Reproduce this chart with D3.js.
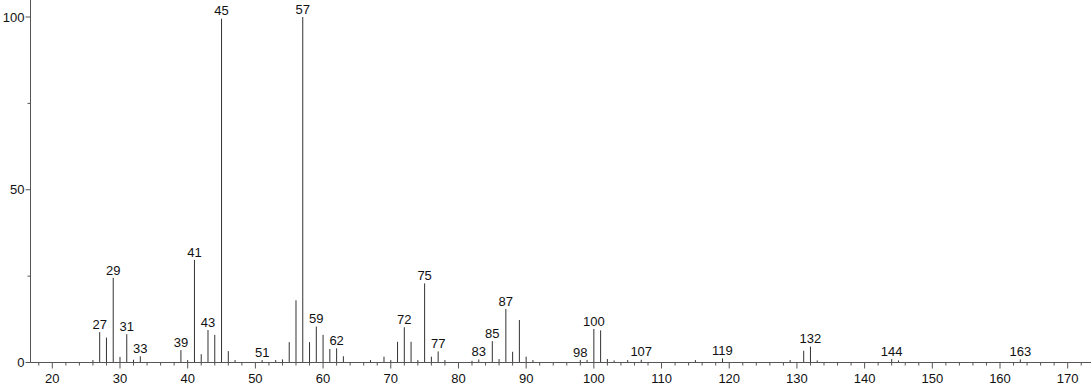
<!DOCTYPE html>
<html>
<head>
<meta charset="utf-8">
<script src="https://cdn.jsdelivr.net/npm/d3@7"></script>
<style>
  html, body { margin: 0; padding: 0; background: #fff; }
  svg { display: block; }
  text { font-family: "Liberation Sans", Arial, sans-serif; font-size: 13px; fill: #111; }
</style>
</head>
<body>
<svg id="chart" width="1091" height="387"></svg>
<script>
const mz = [26,27,28,29,30,31,32,33,39,40,41,42,43,44,45,46,47,51,53,54,55,56,57,58,59,60,61,62,63,67,69,70,71,72,73,74,75,76,77,78,82,83,85,86,87,88,89,90,91,98,99,100,101,102,103,105,107,115,119,129,131,132,133,144,145,163];
const intensity = [0.7,8.8,7.2,24.5,1.6,8.2,0.8,1.8,3.6,0.7,29.7,2.4,9.4,8.0,99.5,3.3,0.7,0.7,0.7,0.9,5.9,18.0,100,5.9,10.4,8.0,3.9,4.1,1.8,0.7,1.7,0.7,6.0,10.2,6.0,0.7,22.9,1.7,3.2,0.7,0.5,0.9,6.2,1.0,15.5,3.1,12.3,1.7,0.7,0.7,0.7,9.7,9.3,1.0,0.6,0.7,0.8,0.7,1.2,0.7,3.4,4.6,0.6,1.0,0.6,0.9];
const labeledPeaks = [27,29,31,33,39,41,43,45,51,57,59,62,72,75,77,83,85,87,98,100,107,119,132,144,163];
const xMajorTicks = [20,30,40,50,60,70,80,90,100,110,120,130,140,150,160,170];
const yMajorTicks = [0,50,100];
const yMinorTicks = [25,75];

const svg = d3.select("#chart");
const x = d3.scaleLinear().domain([20,170]).range([52.3,1067.7]);
const y = d3.scaleLinear().domain([0,100]).range([362.5,17]);
const xLeft = 30.5, xRight = 1091;
const xMinor = d3.range(18, 174, 2).filter(v => v % 10 !== 0);

const lineColor = "#333";
const axisColor = "#555";

// peaks
const peaks = mz.map((m,i) => ({m, v: intensity[i]}));
svg.append("g").selectAll("line").data(peaks).join("line")
  .attr("x1", d => x(d.m)).attr("x2", d => x(d.m))
  .attr("y1", y(0)).attr("y2", d => y(d.v))
  .attr("stroke", lineColor).attr("stroke-width", 1);

// x axis
const gx = svg.append("g");
gx.append("line").attr("x1", xLeft).attr("x2", xRight).attr("y1", y(0)).attr("y2", y(0))
  .attr("stroke", axisColor).attr("stroke-width", 1);
gx.selectAll("line.maj").data(xMajorTicks).join("line").attr("class","maj")
  .attr("x1", d => x(d)).attr("x2", d => x(d)).attr("y1", y(0)).attr("y2", y(0)+6)
  .attr("stroke", axisColor);
gx.selectAll("line.min").data(xMinor).join("line").attr("class","min")
  .attr("x1", d => x(d)).attr("x2", d => x(d)).attr("y1", y(0)).attr("y2", y(0)+3)
  .attr("stroke", axisColor);
gx.selectAll("text").data(xMajorTicks).join("text")
  .attr("x", d => x(d)).attr("y", 383.3).attr("text-anchor","middle").text(d => d);

// y axis
const gy = svg.append("g");
gy.append("line").attr("x1", xLeft).attr("x2", xLeft).attr("y1", y(0)).attr("y2", 0)
  .attr("stroke", axisColor).attr("stroke-width", 1);
gy.selectAll("line.maj").data(yMajorTicks).join("line").attr("class","maj")
  .attr("x1", xLeft-5).attr("x2", xLeft).attr("y1", d => y(d)).attr("y2", d => y(d))
  .attr("stroke", axisColor);
gy.selectAll("line.min").data(yMinorTicks).join("line").attr("class","min")
  .attr("x1", xLeft-3).attr("x2", xLeft).attr("y1", d => y(d)).attr("y2", d => y(d))
  .attr("stroke", axisColor);
gy.selectAll("text").data(yMajorTicks).join("text")
  .attr("x", 24.5).attr("y", d => y(d)).attr("dy","0.35em").attr("text-anchor","end").text(d => d);

// peak labels
const lab = peaks.filter(p => labeledPeaks.includes(p.m));
svg.append("g").selectAll("text").data(lab).join("text")
  .attr("x", d => x(d.m)).attr("y", d => y(d.v) - 3.3)
  .attr("text-anchor","middle").text(d => d.m);
</script>
</body>
</html>
